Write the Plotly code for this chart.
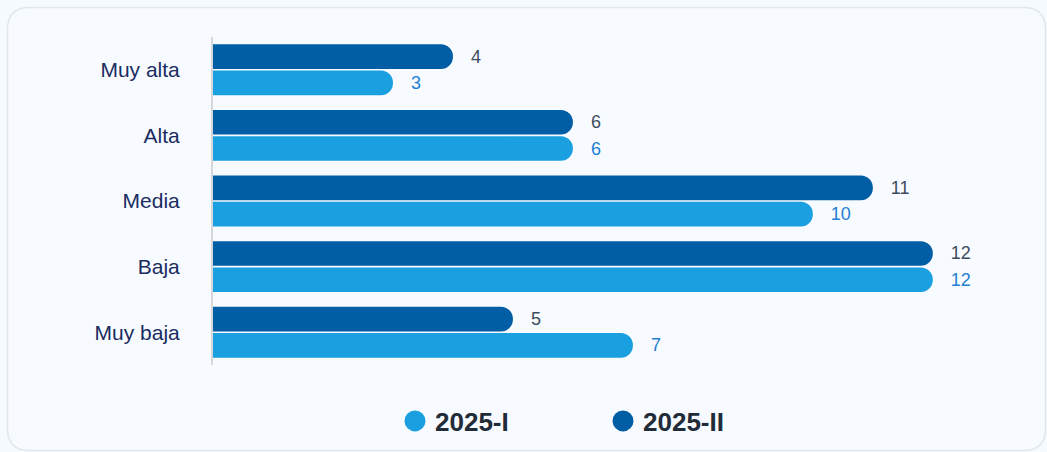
import plotly.graph_objects as go

categories = ["Muy alta", "Alta", "Media", "Baja", "Muy baja"]
series_names = ["2025-I", "2025-II"]
values_2025_I = [3, 6, 10, 12, 7]
values_2025_II = [4, 6, 11, 12, 5]

colors = {"2025-I": "#1a9fe0", "2025-II": "#015da4"}
label_colors = {"2025-I": "#1f7fd3", "2025-II": "#3d4c5c"}

W, H = 1047, 452
L, R, T, B = 213, 14, 37, 87
pw, ph = W - L - R, H - T - B
xmax = 13.67

fig = go.Figure()
# reversed category axis: first trace drawn on top within each group
for name, vals in [("2025-II", values_2025_II), ("2025-I", values_2025_I)]:
    fig.add_trace(go.Bar(
        y=categories, x=vals, orientation="h", name=name,
        marker=dict(color=colors[name], line=dict(width=0)),
        texttemplate="\u00a0\u00a0\u00a0%{x}", textposition="outside",
        textfont=dict(size=18, color=label_colors[name], family="Arial, Liberation Sans"),
        cliponaxis=False, showlegend=False, hoverinfo="skip",
    ))
for name in series_names:
    fig.add_trace(go.Scatter(
        x=[None], y=[None], mode="markers", name=name,
        marker=dict(symbol="circle", size=24, color=colors[name],
                    line=dict(color=colors[name], width=5)),
        showlegend=True, hoverinfo="skip",
    ))

def px2x(p):
    return (p - L) / pw

def py2y(p):
    return (H - B - p) / ph

# rounded card
x0, y0, x1, y1, r = 7.5, 7.5, 1045.5, 450.5, 22
pts = [
    f"M {px2x(x0 + r)} {py2y(y0)}",
    f"L {px2x(x1 - r)} {py2y(y0)}",
    f"Q {px2x(x1)} {py2y(y0)} {px2x(x1)} {py2y(y0 + r)}",
    f"L {px2x(x1)} {py2y(y1 - r)}",
    f"Q {px2x(x1)} {py2y(y1)} {px2x(x1 - r)} {py2y(y1)}",
    f"L {px2x(x0 + r)} {py2y(y1)}",
    f"Q {px2x(x0)} {py2y(y1)} {px2x(x0)} {py2y(y1 - r)}",
    f"L {px2x(x0)} {py2y(y0 + r)}",
    f"Q {px2x(x0)} {py2y(y0)} {px2x(x0 + r)} {py2y(y0)}",
    "Z",
]
fig.add_shape(type="path", path=" ".join(pts), xref="paper", yref="paper",
              fillcolor="#f7fbff", line=dict(color="#e1e6ed", width=1.5), layer="below")

fig.update_layout(
    width=W, height=H,
    margin=dict(l=L, r=R, t=T, b=B, pad=0, autoexpand=False),
    paper_bgcolor="#f5faff", plot_bgcolor="rgba(0,0,0,0)",
    barmode="group", bargap=0.2, bargroupgap=0.06, barcornerradius=12,
    font=dict(family="Arial, Liberation Sans", color="#1b2f66"),
    xaxis=dict(range=[0, xmax], visible=False, fixedrange=True),
    yaxis=dict(categoryorder="array", categoryarray=categories, autorange="reversed",
               showline=True, linecolor="#d4d6d9", linewidth=2, showgrid=False,
               zeroline=False, ticks="", ticklabelstandoff=27,
               tickfont=dict(size=21, color="#1a2c5f", family="Arial, Liberation Sans")),
    legend=dict(orientation="h", x=px2x(395), xanchor="left", y=py2y(421), yanchor="middle",
                entrywidth=163, itemsizing="trace",
                font=dict(size=26, color="#222b38", family="Arial, Liberation Sans", weight="bold"),
                bgcolor="rgba(0,0,0,0)"),
    hovermode=False,
)

fig.write_html(
    "out.html",
    config={"displayModeBar": False},
    post_script="document.body.style.margin='0';document.body.style.background='#f5faff';",
)
